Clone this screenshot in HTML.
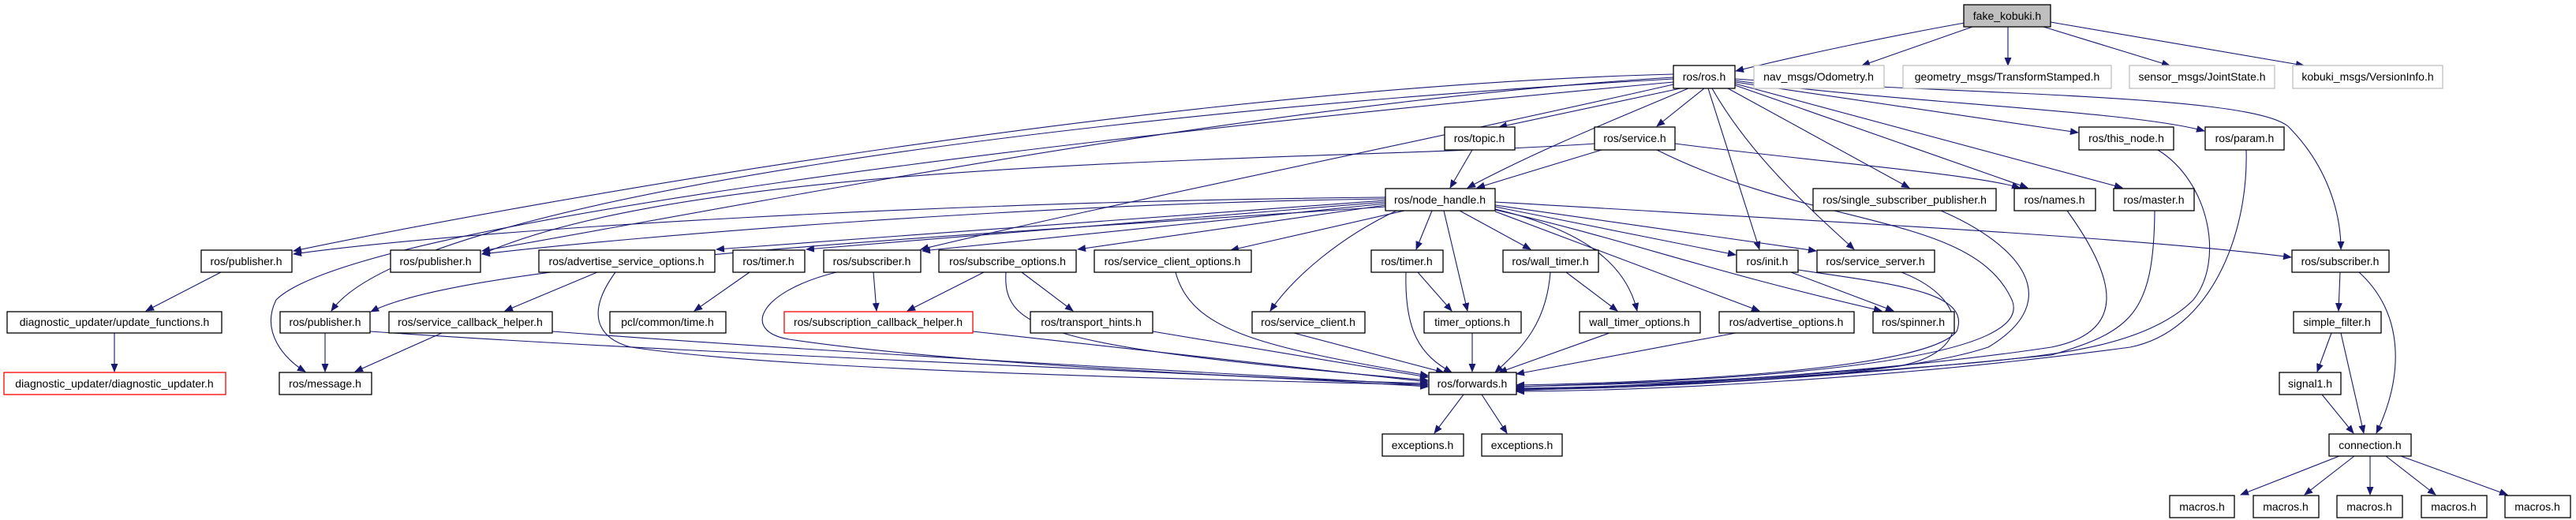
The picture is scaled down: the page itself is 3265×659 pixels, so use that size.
<!DOCTYPE html>
<html><head><meta charset="utf-8"><style>
html,body{margin:0;padding:0;background:#fff;}
svg{display:block;}
text{font-family:"Liberation Sans",sans-serif;font-size:14px;fill:#000;}
</style></head><body>
<svg width="3265" height="659" viewBox="0 0 3265 659" xmlns="http://www.w3.org/2000/svg">
<defs>
<marker id="a" markerWidth="11" markerHeight="9" refX="10" refY="4.5" orient="auto" markerUnits="userSpaceOnUse"><path d="M0,0 L11,4.5 L0,9z" fill="#191970"/></marker>
</defs>
<g fill="none" stroke="#191970" stroke-width="1.1" marker-end="url(#a)">
<path d="M2490,29 C2400,45 2280,70 2200,90"/>
<path d="M2500,34 L2360,83"/>
<path d="M2545,34 L2545,83"/>
<path d="M2590,34 L2750,83"/>
<path d="M2599,28 L2920,83"/>
<path d="M2121,94 C1500,110 700,250 372,318"/>
<path d="M2121,98 C1600,130 1000,250 611,318"/>
<path d="M2121,100 C1400,140 520,250 420,394"/>
<path d="M2121,104 C1400,170 450,280 350,380 C330,420 360,455 387,471"/>
<path d="M2121,107 C1800,180 1400,260 1167,316"/>
<path d="M2130,112 L1900,161"/>
<path d="M2160,112 L2100,160"/>
<path d="M2140,112 C2050,150 1950,190 1860,238"/>
<path d="M2165,112 L2230,316"/>
<path d="M2170,112 C2220,200 2300,270 2350,316"/>
<path d="M2190,112 L2420,238"/>
<path d="M2199,108 L2570,238"/>
<path d="M2199,106 L2690,238"/>
<path d="M2199,104 L2634,168"/>
<path d="M2199,102 C2400,130 2700,140 2794,166"/>
<path d="M2199,100 C2500,120 2850,120 2900,160 C2950,210 2967,270 2967,316"/>
<path d="M1866,190 L1838,238"/>
<path d="M2021,182 C1700,205 900,195 611,322"/>
<path d="M2030,190 L1872,238"/>
<path d="M2123,182 C2300,205 2500,220 2560,238"/>
<path d="M2100,190 C2300,290 2500,270 2550,380 C2580,450 2300,480 1922,490"/>
<path d="M1756,250 C1200,255 600,290 372,322"/>
<path d="M1756,252 C1300,258 800,300 611,322"/>
<path d="M1756,254 L908,316"/>
<path d="M1756,256 L1022,316"/>
<path d="M1756,258 L1169,318"/>
<path d="M1756,260 L1366,316"/>
<path d="M1780,267 L1560,317"/>
<path d="M1756,262 C1200,300 600,330 470,395"/>
<path d="M1770,267 C1700,300 1640,350 1610,394"/>
<path d="M1815,267 L1795,316"/>
<path d="M1830,267 L1860,394"/>
<path d="M1850,267 L1940,316"/>
<path d="M1895,265 C2000,290 2060,330 2075,394"/>
<path d="M1895,268 L2230,394"/>
<path d="M1895,266 C2050,300 2150,340 2385,394"/>
<path d="M1895,262 L2200,323"/>
<path d="M1895,260 L2302,318"/>
<path d="M1895,256 C2300,280 2700,300 2904,326"/>
<path d="M280,345 L185,394"/>
<path d="M145,422 L145,471"/>
<path d="M757,345 L640,394"/>
<path d="M780,345 C740,400 760,430 800,440 C1000,470 1500,480 1810,488"/>
<path d="M950,345 L880,394"/>
<path d="M1107,345 L1111,394"/>
<path d="M1060,345 C960,370 940,420 1000,430 C1200,460 1600,480 1810,486"/>
<path d="M1247,345 L1150,394"/>
<path d="M1295,345 L1360,394"/>
<path d="M1275,345 C1270,420 1330,440 1810,482"/>
<path d="M1490,345 C1510,420 1600,440 1810,476"/>
<path d="M412,422 L412,471"/>
<path d="M469,420 C900,450 1500,470 1810,490"/>
<path d="M560,422 L450,471"/>
<path d="M700,420 C1100,450 1500,470 1810,488"/>
<path d="M1233,420 L1810,484"/>
<path d="M1461,420 L1810,478"/>
<path d="M1640,422 L1830,472"/>
<path d="M1797,345 L1840,394"/>
<path d="M1782,345 C1780,420 1800,450 1840,472"/>
<path d="M1866,422 L1866,471"/>
<path d="M1985,345 L2050,394"/>
<path d="M1965,345 C1960,410 1930,440 1895,472"/>
<path d="M2040,422 L1900,472"/>
<path d="M2200,422 L1922,474"/>
<path d="M2270,345 L2400,394"/>
<path d="M2279,342 C2400,360 2500,370 2480,420 C2440,470 2100,485 1922,488"/>
<path d="M2410,345 C2500,380 2500,450 2400,465 C2200,485 2000,488 1922,490"/>
<path d="M2460,267 C2560,310 2620,380 2520,440 C2400,480 2100,490 1922,492"/>
<path d="M2620,267 C2680,350 2700,420 2600,440 C2400,470 2100,490 1922,493"/>
<path d="M2731,267 C2730,400 2700,420 2600,450 C2300,480 2100,492 1922,494"/>
<path d="M2735,190 C2800,230 2820,330 2780,380 C2720,440 2600,450 2500,460 C2200,485 2000,492 1922,495"/>
<path d="M2847,190 C2850,300 2800,420 2700,440 C2400,480 2100,495 1922,496"/>
<path d="M1855,500 L1818,549"/>
<path d="M1878,500 L1910,549"/>
<path d="M2966,345 L2964,394"/>
<path d="M2990,345 C3050,400 3045,480 3012,549"/>
<path d="M2955,422 L2937,471"/>
<path d="M2967,422 L2996,549"/>
<path d="M2943,500 L2983,549"/>
<path d="M2965,578 L2840,627"/>
<path d="M2984,578 L2921,627"/>
<path d="M3004,578 L3004,627"/>
<path d="M3024,578 L3087,627"/>
<path d="M3043,578 L3178,627"/>
</g>
<g stroke-width="1.3" text-anchor="middle">
<rect x="2489" y="6" width="110" height="28" fill="#bfbfbf" stroke="#000"/><text x="2544" y="25">fake_kobuki.h</text>
<rect x="2121" y="83" width="78" height="29" fill="#fff" stroke="#000"/><text x="2160" y="102">ros/ros.h</text>
<rect x="2223" y="83" width="165" height="29" fill="#fff" stroke="#bfbfbf"/><text x="2305" y="102">nav_msgs/Odometry.h</text>
<rect x="2412" y="83" width="264" height="29" fill="#fff" stroke="#bfbfbf"/><text x="2544" y="102">geometry_msgs/TransformStamped.h</text>
<rect x="2699" y="83" width="184" height="29" fill="#fff" stroke="#bfbfbf"/><text x="2791" y="102">sensor_msgs/JointState.h</text>
<rect x="2906" y="83" width="190" height="29" fill="#fff" stroke="#bfbfbf"/><text x="3001" y="102">kobuki_msgs/VersionInfo.h</text>
<rect x="1831" y="161" width="89" height="29" fill="#fff" stroke="#000"/><text x="1875" y="180">ros/topic.h</text>
<rect x="2021" y="161" width="102" height="29" fill="#fff" stroke="#000"/><text x="2072" y="180">ros/service.h</text>
<rect x="2635" y="161" width="120" height="29" fill="#fff" stroke="#000"/><text x="2695" y="180">ros/this_node.h</text>
<rect x="2795" y="161" width="100" height="29" fill="#fff" stroke="#000"/><text x="2845" y="180">ros/param.h</text>
<rect x="1756" y="239" width="139" height="28" fill="#fff" stroke="#000"/><text x="1825" y="258">ros/node_handle.h</text>
<rect x="2298" y="239" width="232" height="28" fill="#fff" stroke="#000"/><text x="2414" y="258">ros/single_subscriber_publisher.h</text>
<rect x="2553" y="239" width="103" height="28" fill="#fff" stroke="#000"/><text x="2604" y="258">ros/names.h</text>
<rect x="2679" y="239" width="102" height="28" fill="#fff" stroke="#000"/><text x="2730" y="258">ros/master.h</text>
<rect x="255" y="317" width="115" height="28" fill="#fff" stroke="#000"/><text x="312" y="336">ros/publisher.h</text>
<rect x="495" y="317" width="114" height="28" fill="#fff" stroke="#000"/><text x="552" y="336">ros/publisher.h</text>
<rect x="683" y="317" width="223" height="28" fill="#fff" stroke="#000"/><text x="794" y="336">ros/advertise_service_options.h</text>
<rect x="929" y="317" width="91" height="28" fill="#fff" stroke="#000"/><text x="974" y="336">ros/timer.h</text>
<rect x="1044" y="317" width="123" height="28" fill="#fff" stroke="#000"/><text x="1105" y="336">ros/subscriber.h</text>
<rect x="1190" y="317" width="174" height="28" fill="#fff" stroke="#000"/><text x="1277" y="336">ros/subscribe_options.h</text>
<rect x="1387" y="317" width="199" height="28" fill="#fff" stroke="#000"/><text x="1486" y="336">ros/service_client_options.h</text>
<rect x="1738" y="317" width="91" height="28" fill="#fff" stroke="#000"/><text x="1783" y="336">ros/timer.h</text>
<rect x="1905" y="317" width="121" height="28" fill="#fff" stroke="#000"/><text x="1965" y="336">ros/wall_timer.h</text>
<rect x="2201" y="317" width="78" height="28" fill="#fff" stroke="#000"/><text x="2240" y="336">ros/init.h</text>
<rect x="2303" y="317" width="149" height="28" fill="#fff" stroke="#000"/><text x="2377" y="336">ros/service_server.h</text>
<rect x="2905" y="317" width="123" height="28" fill="#fff" stroke="#000"/><text x="2966" y="336">ros/subscriber.h</text>
<rect x="9" y="395" width="272" height="27" fill="#fff" stroke="#000"/><text x="145" y="413">diagnostic_updater/update_functions.h</text>
<rect x="355" y="395" width="114" height="27" fill="#fff" stroke="#000"/><text x="412" y="413">ros/publisher.h</text>
<rect x="493" y="395" width="207" height="27" fill="#fff" stroke="#000"/><text x="596" y="413">ros/service_callback_helper.h</text>
<rect x="773" y="395" width="147" height="27" fill="#fff" stroke="#000"/><text x="846" y="413">pcl/common/time.h</text>
<rect x="994" y="395" width="239" height="27" fill="#fff" stroke="#ff0000"/><text x="1113" y="413">ros/subscription_callback_helper.h</text>
<rect x="1306" y="395" width="155" height="27" fill="#fff" stroke="#000"/><text x="1383" y="413">ros/transport_hints.h</text>
<rect x="1587" y="395" width="143" height="27" fill="#fff" stroke="#000"/><text x="1658" y="413">ros/service_client.h</text>
<rect x="1805" y="395" width="123" height="27" fill="#fff" stroke="#000"/><text x="1866" y="413">timer_options.h</text>
<rect x="2002" y="395" width="153" height="27" fill="#fff" stroke="#000"/><text x="2078" y="413">wall_timer_options.h</text>
<rect x="2179" y="395" width="171" height="27" fill="#fff" stroke="#000"/><text x="2264" y="413">ros/advertise_options.h</text>
<rect x="2374" y="395" width="103" height="27" fill="#fff" stroke="#000"/><text x="2425" y="413">ros/spinner.h</text>
<rect x="2907" y="395" width="111" height="27" fill="#fff" stroke="#000"/><text x="2962" y="413">simple_filter.h</text>
<rect x="5" y="472" width="281" height="28" fill="#fff" stroke="#ff0000"/><text x="145" y="491">diagnostic_updater/diagnostic_updater.h</text>
<rect x="354" y="472" width="117" height="28" fill="#fff" stroke="#000"/><text x="412" y="491">ros/message.h</text>
<rect x="1811" y="472" width="111" height="28" fill="#fff" stroke="#000"/><text x="1866" y="491">ros/forwards.h</text>
<rect x="2889" y="472" width="78" height="28" fill="#fff" stroke="#000"/><text x="2928" y="491">signal1.h</text>
<rect x="1752" y="550" width="103" height="28" fill="#fff" stroke="#000"/><text x="1803" y="569">exceptions.h</text>
<rect x="1878" y="550" width="102" height="28" fill="#fff" stroke="#000"/><text x="1929" y="569">exceptions.h</text>
<rect x="2952" y="550" width="104" height="28" fill="#fff" stroke="#000"/><text x="3004" y="569">connection.h</text>
<rect x="2750" y="628" width="82" height="28" fill="#fff" stroke="#000"/><text x="2791" y="647">macros.h</text>
<rect x="2856" y="628" width="83" height="28" fill="#fff" stroke="#000"/><text x="2897" y="647">macros.h</text>
<rect x="2962" y="628" width="83" height="28" fill="#fff" stroke="#000"/><text x="3003" y="647">macros.h</text>
<rect x="3069" y="628" width="83" height="28" fill="#fff" stroke="#000"/><text x="3110" y="647">macros.h</text>
<rect x="3175" y="628" width="83" height="28" fill="#fff" stroke="#000"/><text x="3216" y="647">macros.h</text>
</g>
</svg>
</body></html>
